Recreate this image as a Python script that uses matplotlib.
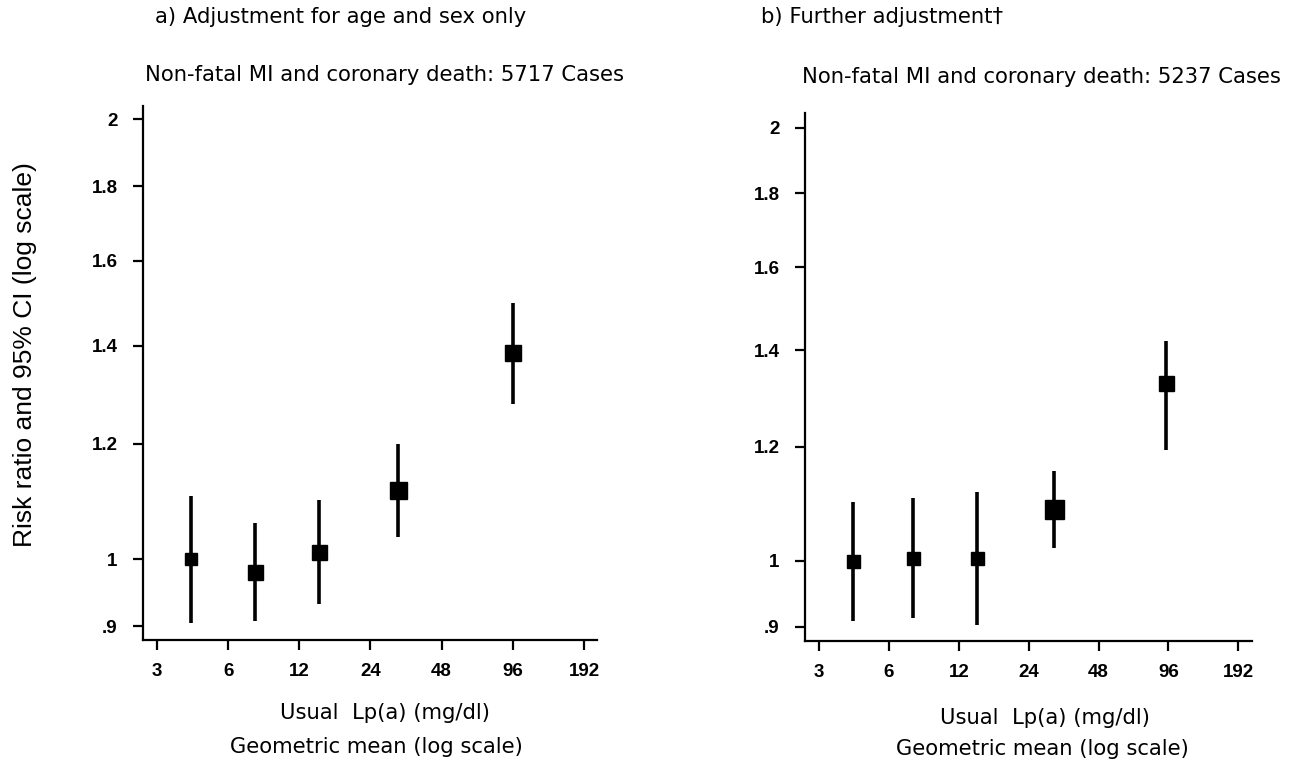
import numpy as np
import matplotlib
matplotlib.use("Agg")
import matplotlib.pyplot as plt
from matplotlib.ticker import FixedLocator, NullLocator

# Data (risk ratio with 95% CI, by Lp(a) group)
lpa_a = [4.2, 7.8, 14.6, 31.3, 96.0]
rr_a = [1.000, 0.981, 1.012, 1.115, 1.385]
lo_a = [0.904, 0.908, 0.932, 1.035, 1.278]
hi_a = [1.105, 1.059, 1.098, 1.199, 1.498]
size_a = [12, 15, 15, 17, 16]

lpa_b = [4.2, 7.6, 14.4, 30.8, 94.0]
rr_b = [1.000, 1.004, 1.004, 1.086, 1.330]
lo_b = [0.908, 0.912, 0.903, 1.021, 1.193]
hi_b = [1.099, 1.105, 1.117, 1.154, 1.421]
size_b = [13, 13, 13, 19, 15]

x_ticks = [3, 6, 12, 24, 48, 96, 192]
y_ticks = [0.9, 1, 1.2, 1.4, 1.6, 1.8, 2]
y_ticklabels = [".9", "1", "1.2", "1.4", "1.6", "1.8", "2"]

DPI = 100
fig = plt.figure(figsize=(12.96, 7.65), dpi=DPI)

ax1 = fig.add_axes([143 / 1296, 1 - 640 / 765, 454 / 1296, 534 / 765])
ax2 = fig.add_axes([805 / 1296, 1 - 640.7 / 765, 447 / 1296, 527.7 / 765])


def draw_panel(ax, x, rr, lo, hi, sizes, xlim, ylim):
    ax.set_xscale("log")
    ax.set_yscale("log")
    ax.vlines(x, lo, hi, color="black", linewidth=2.6)
    for xi, yi, s in zip(x, rr, sizes):
        # sizes are in pixels, convert to points
        ax.plot(xi, yi, marker="s", color="black", markersize=s * 72 / DPI, linestyle="none")
    ax.set_xlim(*xlim)
    ax.set_ylim(*ylim)
    ax.xaxis.set_major_locator(FixedLocator(x_ticks))
    ax.xaxis.set_minor_locator(NullLocator())
    ax.set_xticklabels([str(t) for t in x_ticks])
    ax.yaxis.set_major_locator(FixedLocator(y_ticks))
    ax.yaxis.set_minor_locator(NullLocator())
    ax.set_yticklabels(y_ticklabels)
    for side in ["top", "right"]:
        ax.spines[side].set_visible(False)
    for side in ["left", "bottom"]:
        ax.spines[side].set_linewidth(1.6)
    ax.tick_params(direction="out", length=7.2, width=1.6)
    ax.tick_params(axis="y", pad=11)
    ax.tick_params(axis="x", pad=9.5)
    for lab in ax.get_xticklabels() + ax.get_yticklabels():
        lab.set_fontfamily("Liberation Sans")
        lab.set_fontsize(13.5)
        lab.set_fontweight("bold")


draw_panel(ax1, lpa_a, rr_a, lo_a, hi_a, size_a, (2.62, 218), (0.8807, 2.042))
draw_panel(ax2, lpa_b, rr_b, lo_b, hi_b, size_b, (2.61, 220), (0.880, 2.047))

tfont = dict(family="DejaVu Sans", fontsize=15.2)
fig.text(155 / 1296, 1 - 17 / 765, "a) Adjustment for age and sex only", ha="left", va="center", **tfont)
fig.text(145 / 1296, 1 - 75 / 765, "Non-fatal MI and coronary death: 5717 Cases", ha="left", va="center", **tfont)
fig.text(761 / 1296, 1 - 17 / 765, "b) Further adjustment\u2020", ha="left", va="center", **tfont)
fig.text(802 / 1296, 1 - 77 / 765, "Non-fatal MI and coronary death: 5237 Cases", ha="left", va="center", **tfont)

fig.text(385 / 1296, 1 - 713 / 765, "Usual  Lp(a) (mg/dl)", ha="center", va="center", **tfont)
fig.text(376 / 1296, 1 - 747 / 765, "Geometric mean (log scale)", ha="center", va="center", **tfont)
fig.text(1045 / 1296, 1 - 718 / 765, "Usual  Lp(a) (mg/dl)", ha="center", va="center", **tfont)
fig.text(1042 / 1296, 1 - 749 / 765, "Geometric mean (log scale)", ha="center", va="center", **tfont)

fig.text(25 / 1296, 1 - 355 / 765, "Risk ratio and 95% CI (log scale)", rotation=90,
         ha="center", va="center", family="Liberation Sans", fontsize=19)

fig.savefig("out.png", dpi=DPI)
